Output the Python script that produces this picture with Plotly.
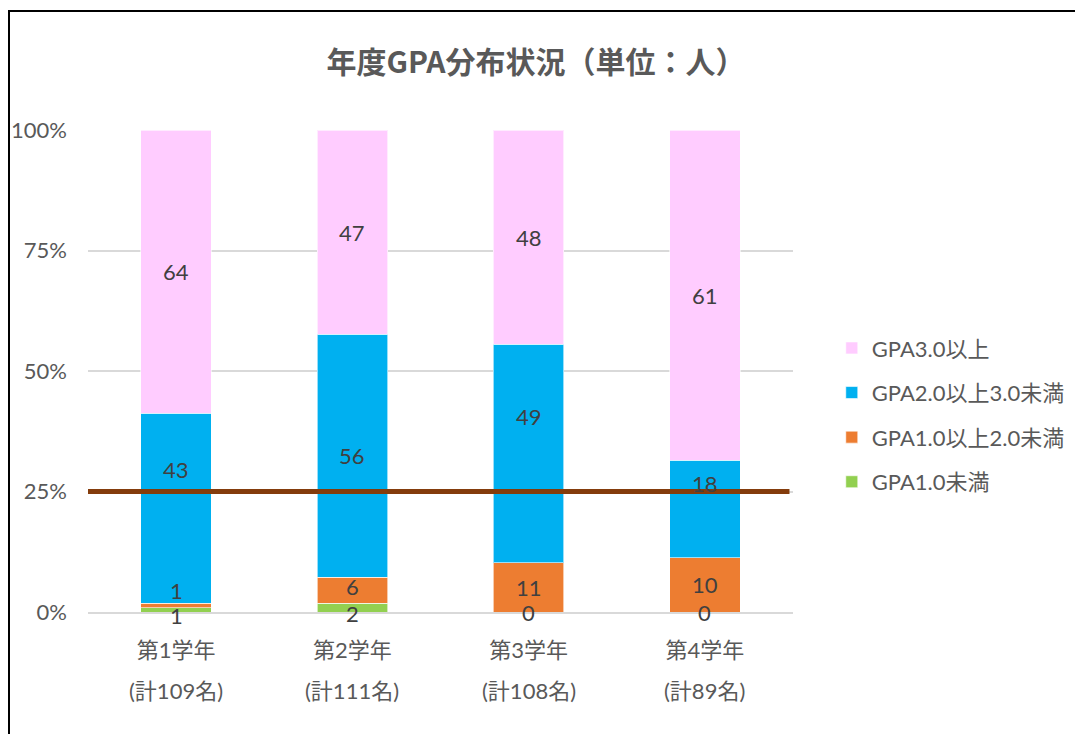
import plotly.graph_objects as go
import numpy as np

grades = ["第1学年", "第2学年", "第3学年", "第4学年"]
series_names = ["GPA1.0未満", "GPA1.0以上2.0未満", "GPA2.0以上3.0未満", "GPA3.0以上"]
gpa_lt1 = [1, 2, 0, 0]
gpa_1to2 = [1, 6, 11, 10]
gpa_2to3 = [43, 56, 49, 18]
gpa_ge3 = [64, 47, 48, 61]
colors = ["#92D050", "#ED7D31", "#00B0F0", "#FFCCFF"]
y_ticks = [0, 25, 50, 75, 100]
y_tick_labels = ["0%", "25%", "50%", "75%", "100%"]
reference_pct = 25

# pixel offsets for labels that were moved by hand in the original (style only)
label_yshift = {(0, 2): 39, (0, 1): 15, (1, 1): 4, (2, 2): 37, (3, 2): 26,
                (0, 0): -6, (1, 0): -6}

series = [gpa_lt1, gpa_1to2, gpa_2to3, gpa_ge3]
counts = np.array(series, dtype=float)
totals = counts.sum(axis=0)
pct = counts / totals * 100
cum = np.cumsum(pct, axis=0)
mid = cum - pct / 2

# page body has an 8px margin; figure is sized to fill the rest of the window
W, H = 1075, 726
L, T = 80, 122
PW, PH = 705, 482

font_family = "Lato, 'Noto Sans CJK JP', sans-serif"
fig = go.Figure()
for i, name in enumerate(series_names):
    fig.add_trace(go.Bar(
        x=grades, y=pct[i], name=name,
        marker=dict(color=colors[i], line=dict(color="rgba(255,255,255,0.6)", width=1)),
        hoverinfo="skip", legendgroup=name, legendrank=len(series_names) - i,
    ))

annotations = []
for i in range(len(series)):
    for j in range(len(grades)):
        annotations.append(dict(
            x=grades[j], y=mid[i][j], xref="x", yref="y",
            text=str(series[i][j]), showarrow=False,
            yshift=label_yshift.get((j, i), 0),
            font=dict(size=22, color="#404040", family=font_family),
        ))
for j in range(len(grades)):
    annotations.append(dict(
        x=grades[j], y=-78 / PH, xref="x", yref="paper", yanchor="middle",
        text=f"(計{int(totals[j])}名)", showarrow=False,
        font=dict(size=22, color="#595959", family=font_family),
    ))

fig.update_layout(
    width=W, height=H,
    margin=dict(l=L, r=W - L - PW, t=T, b=H - T - PH, autoexpand=False),
    paper_bgcolor="white", plot_bgcolor="white",
    barmode="stack", bargap=0.6,
    font=dict(family=font_family, color="#595959", size=22),
    title=dict(text="<b>年度GPA分布状況（単位：人）</b>", x=528 / W, xref="container",
               y=1 - 54 / H, yref="container", xanchor="center", yanchor="middle",
               font=dict(size=30, color="#595959", family="'Noto Sans CJK JP', sans-serif")),
    xaxis=dict(showgrid=False, showline=True, linecolor="#d9d9d9", linewidth=1.5,
               automargin=False,
               ticks="", ticklabelstandoff=18, tickfont=dict(size=22, color="#595959")),
    yaxis=dict(range=[0, 100], tickvals=y_ticks, ticktext=y_tick_labels, automargin=False,
               showgrid=True, gridcolor="#d9d9d9", gridwidth=1.5, zeroline=False,
               ticklabelstandoff=20, tickfont=dict(size=22, color="#595959")),
    legend=dict(x=1.055, y=0.591, xanchor="left", yanchor="top", traceorder="grouped",
                tracegroupgap=13, font=dict(size=22, color="#595959"), itemwidth=30),
    showlegend=True,
    annotations=annotations,
    shapes=[
        dict(type="line", xref="paper", yref="y", x0=0, x1=0.995, y0=reference_pct, y1=reference_pct,
             line=dict(color="#843C0C", width=5), layer="above"),
        dict(type="rect", xref="paper", yref="paper", x0=(1 - L) / PW, x1=(1100 - L) / PW,
             y0=-(H + 20 - T - PH) / PH, y1=(T + PH - 3) / PH, line=dict(color="black", width=2),
             fillcolor="rgba(0,0,0,0)", layer="below"),
    ],
)

fig.write_html("out.html")
